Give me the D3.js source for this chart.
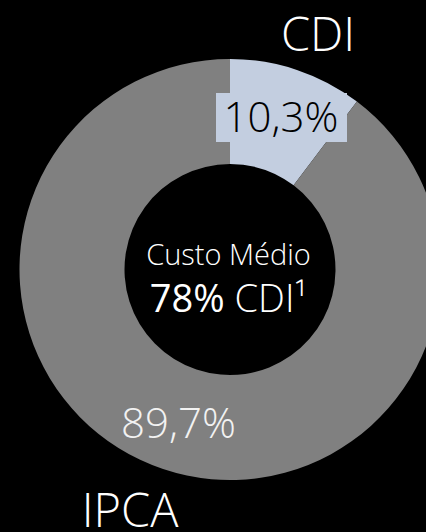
<!DOCTYPE html>
<html>
<head>
<meta charset="utf-8">
<script src="https://cdn.jsdelivr.net/npm/d3@7"></script>
<style>
html,body{margin:0;padding:0;background:#000;}
svg{display:block;}
text{font-family:"Open Sans",sans-serif;}
</style>
</head>
<body>
<svg id="chart" width="426" height="532"></svg>
<script>
const categories = ["CDI", "IPCA"];
const values = [10.3, 89.7];
const valueLabels = ["10,3%", "89,7%"];
const centerTitle = "Custo Médio";
const centerValue = "78%";
const centerUnit = " CDI¹";

const colors = ["#c3cee0", "#808080"];

const svg = d3.select("#chart");
const cx = 230, cy = 269.5, outerR = 210.5, innerR = 105.5;
const g = svg.append("g").attr("transform", `translate(${cx},${cy})`);

const pie = d3.pie().sort(null).value(d => d.value);
const arc = d3.arc().innerRadius(innerR).outerRadius(outerR);
const data = categories.map((c, i) => ({cat: c, value: values[i], label: valueLabels[i]}));
const arcs = pie(data);

g.selectAll("path.slice").data(arcs).join("path")
  .attr("class", "slice")
  .attr("d", arc)
  .attr("fill", (d, i) => colors[i]);

// CDI value label with background
const cdiLabel = g.append("g");
const t1 = cdiLabel.append("text")
  .attr("x", 51).attr("y", -137.5)
  .attr("text-anchor", "middle")
  .attr("font-size", 42).attr("font-weight", 300)
  .attr("fill", "#000")
  .text(arcs[0].data.label);
const bb = t1.node().getBBox();
cdiLabel.insert("rect", "text")
  .attr("x", 216 - cx).attr("y", 93 - cy)
  .attr("width", 131).attr("height", 49)
  .attr("fill", colors[0]);

// IPCA value label
g.append("text")
  .attr("x", -51.5).attr("y", 168.5)
  .attr("text-anchor", "middle")
  .attr("font-size", 42).attr("font-weight", 300)
  .attr("fill", "#f2f2f2")
  .text(arcs[1].data.label);

// Category titles
svg.append("text").attr("x", 318).attr("y", 51)
  .attr("text-anchor", "middle").attr("font-size", 47).attr("font-weight", 300)
  .attr("fill", "#fff").text(categories[0]);
svg.append("text").attr("x", 130).attr("y", 527)
  .attr("text-anchor", "middle").attr("font-size", 47).attr("font-weight", 300)
  .attr("fill", "#fff").text(categories[1]);

// Center text
g.append("text").attr("x", -1.5).attr("y", 265 - cy)
  .attr("text-anchor", "middle").attr("font-size", 29).attr("font-weight", 300)
  .attr("fill", "#fff").text(centerTitle);
const ct = g.append("text").attr("x", -1.5).attr("y", 312 - cy)
  .attr("text-anchor", "middle").attr("font-size", 38)
  .attr("fill", "#fff");
ct.append("tspan").attr("font-weight", 400).text(centerValue);
ct.append("tspan").attr("font-weight", 300).text(centerUnit);
</script>
</body>
</html>
